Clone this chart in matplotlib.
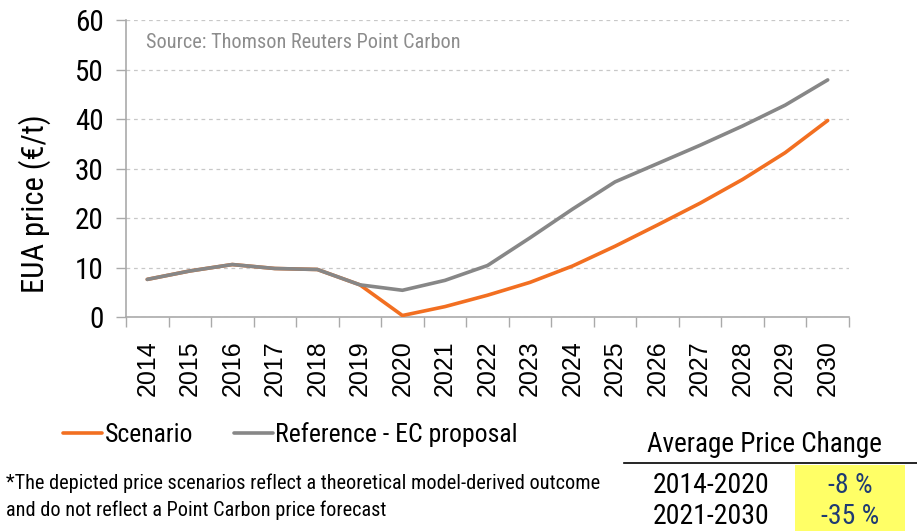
import matplotlib
matplotlib.use("Agg")
import matplotlib.pyplot as plt
from matplotlib.patches import Rectangle
from matplotlib.lines import Line2D
from matplotlib import font_manager

# data
years = [str(y) for y in range(2014, 2031)]
scenario = [7.6, 9.3, 10.6, 9.8, 9.6, 6.5, 0.3, 2.1, 4.4, 7.0, 10.3, 14.3, 18.6, 23.0, 27.8, 33.2, 39.7]
reference = [7.6, 9.3, 10.6, 9.8, 9.6, 6.5, 5.4, 7.4, 10.4, 16.0, 21.8, 27.3, 31.0, 34.7, 38.6, 42.8, 47.9]
periods = ["2014-2020", "2021-2030"]
changes = ["-8 %", "-35 %"]

names = set(f.name for f in font_manager.fontManager.ttflist)
narrow = "Lato"
for cand in ["Roboto Condensed", "Open Sans Condensed", "Liberation Sans Narrow", "Lato"]:
    if cand in names:
        narrow = cand
        break
plt.rcParams['font.family'] = [narrow, 'DejaVu Sans']

orange = "#f26f21"
grey = "#878787"

fig = plt.figure(figsize=(9.17, 5.31), dpi=100)
ax = fig.add_axes([0.1374, 0.403, 0.7884, 0.5593])

x = list(range(len(years)))
ax.plot(x, scenario, color=orange, lw=2.6, solid_capstyle='round', label="Scenario", zorder=3)
ax.plot(x, reference, color=grey, lw=2.6, solid_capstyle='round', label="Reference - EC proposal", zorder=4)

ax.set_xlim(-0.5, len(years) - 0.5)
ax.set_ylim(0, 60)
ax.set_yticks(range(0, 61, 10))
ax.tick_params(axis='y', labelsize=21, length=7, color='#aaaaaa', width=1, pad=9)
ax.set_xticks(x)
ax.set_xticklabels(years, rotation=90, fontsize=18, fontfamily=['Liberation Sans', 'DejaVu Sans'])
ax.tick_params(axis='x', which='major', length=0, pad=17)
ax.set_xticks([i - 0.5 for i in range(len(years) + 1)], minor=True)
ax.tick_params(axis='x', which='minor', length=7, color='#aaaaaa', width=1)
ax.yaxis.grid(True, ls=(0, (3, 3)), color='#c8c8c8', lw=0.9)
ax.set_axisbelow(True)
for s in ['top', 'right']:
    ax.spines[s].set_visible(False)
for s in ['left', 'bottom']:
    ax.spines[s].set_color('#aaaaaa')
    ax.spines[s].set_linewidth(1.2)

ax.set_ylabel("EUA price (€/t)", fontsize=22, ha='center', va='center')
ax.yaxis.set_label_coords(-0.126, 0.38)
ax.text(0.027, 0.955, "Source: Thomson Reuters Point Carbon", transform=ax.transAxes,
        fontsize=14.6, color='#8c8c8c', va='top')

# legend
leg = fig.legend(loc='center left', ncol=2, frameon=False,
                 fontsize=18.5, handlelength=1.5, handletextpad=0.1, columnspacing=1.6)
leg.set_bbox_to_anchor((0.044, 0.181), transform=fig.transFigure)

# footnote
fig.text(0.006, 0.09, "*The depicted price scenarios reflect a theoretical model-derived outcome",
         fontsize=14.6, va='center')
fig.text(0.006, 0.04, "and do not reflect a Point Carbon price forecast", fontsize=14.6, va='center')

# small table
fig.text(0.834, 0.163, "Average Price Change", fontsize=19.5, ha='center', va='center')
fig.add_artist(Line2D([0.68, 1.0], [0.129, 0.129], color='black', lw=1.2, transform=fig.transFigure))
fig.add_artist(Rectangle((0.867, 0.0), 0.12, 0.124, transform=fig.transFigure,
                         facecolor='#ffff66', edgecolor='none', zorder=0))
for i, (p, c) in enumerate(zip(periods, changes)):
    yy = 0.085 - i * 0.058
    fig.text(0.775, yy, p, fontsize=20, ha='center', va='center')
    fig.text(0.927, yy, c, fontsize=20, ha='center', va='center', color='#1f3b73')

fig.savefig("out.png", dpi=100)
